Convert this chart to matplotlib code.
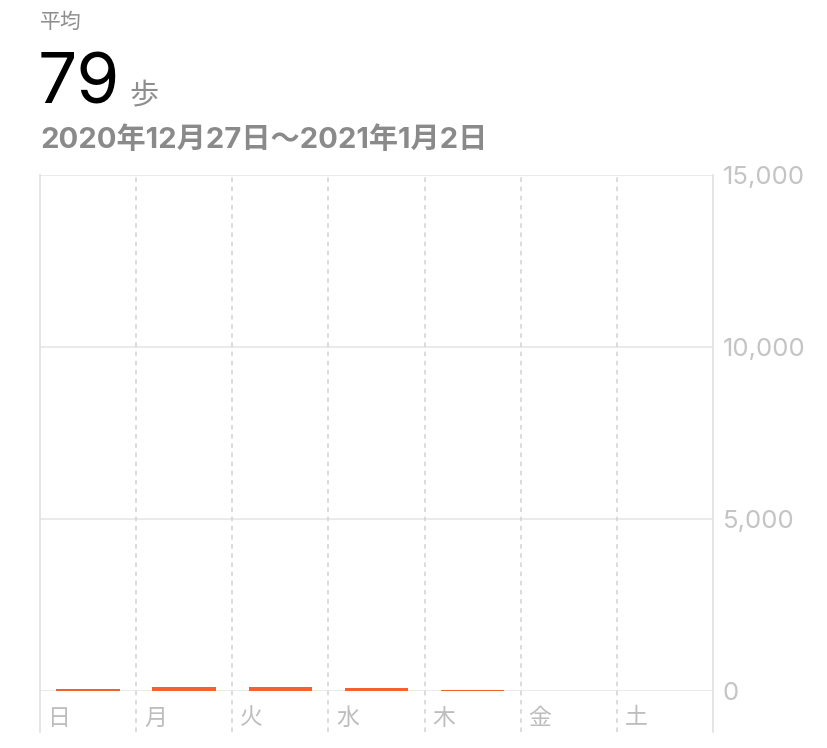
import matplotlib
matplotlib.use("Agg")
import matplotlib.pyplot as plt

plt.rcParams['font.family'] = ['Inter', 'Noto Sans CJK JP', 'DejaVu Sans']

days = ['日', '月', '火', '水', '木', '金', '土']
steps = [55, 130, 105, 80, 25, 0, 0]
yticks = [0, 5000, 10000, 15000]
ytick_labels = ['0', '5,000', '10,000', '15,000']
title_small = '平均'
avg_value = '79'
avg_unit = '歩'
date_range = '2020年12月27日〜2021年1月2日'

W, H = 828, 748
fig = plt.figure(figsize=(W / 100, H / 100), dpi=100)
fig.patch.set_facecolor('white')

L, R, T, B = 40, 713, 175, 691
ax = fig.add_axes([L / W, 1 - B / H, (R - L) / W, (B - T) / H])
ax.set_xlim(0, 7)
ax.set_ylim(0, 15000)

x = [i + 0.5 for i in range(len(days))]
ax.bar(x, steps, width=0.66, color='#F4622C', zorder=3)

for s in ax.spines.values():
    s.set_visible(False)

for v in yticks:
    ax.axhline(v, color='#e6e6e6', lw=1.2, zorder=1)

ext = -(732 - B) / (B - T)
ax.axvline(0, ymin=ext, ymax=1, color='#e0e0e0', lw=1.2, clip_on=False, zorder=1)
ax.axvline(7, ymin=ext, ymax=1, color='#e0e0e0', lw=1.2, clip_on=False, zorder=1)
for i in range(1, 7):
    ax.axvline(i, ymin=ext, ymax=1, color='#d2d2d2', lw=1.1, ls=(0, (3, 3)),
               clip_on=False, zorder=1)

ax.set_xticks([])
ax.yaxis.tick_right()
ax.set_yticks(yticks)
ax.set_yticklabels(ytick_labels, color='#c4c4c4', fontsize=18.5)
ax.tick_params(axis='y', length=0, pad=7)

for i, d in enumerate(days):
    ax.text(i + 0.08, -800, d, ha='left', va='center', fontsize=16.5,
            color='#bdbdbd', clip_on=False)

fig.text(40 / W, 1 - 22 / H, title_small, ha='left', va='center',
         fontsize=15, color='#8e8e8e')
fig.text(38 / W, 1 - 104 / H, avg_value, ha='left', va='baseline',
         fontsize=50, color='black')
fig.text(129 / W, 1 - 104 / H, avg_unit, ha='left', va='baseline',
         fontsize=21, color='#8e8e8e')
fig.text(40 / W, 1 - 140 / H, date_range, ha='left', va='center',
         fontsize=21, color='#8a8a8a', fontweight='bold')

fig.savefig('out.png', dpi=100, facecolor='white')
